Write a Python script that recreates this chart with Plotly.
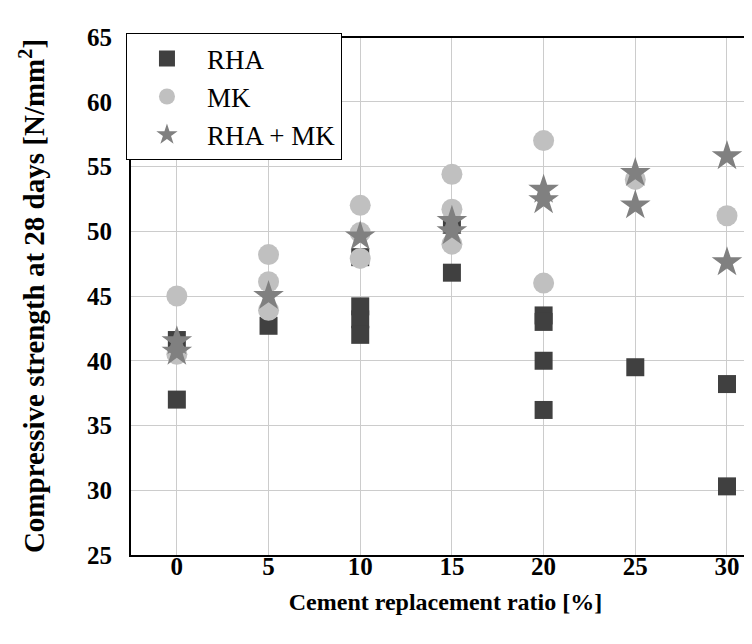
import plotly.graph_objects as go

# x = cement replacement ratio [%], y = compressive strength at 28 days [N/mm2]
rha_x = [0, 0, 5, 10, 10, 10, 10, 15, 15, 20, 20, 20, 20, 25, 30, 30]
rha_y = [41.6, 37.0, 42.7, 48.0, 44.2, 43.2, 42.0, 50.5, 46.8, 43.5, 43.0, 40.0, 36.2, 39.5, 38.2, 30.3]

mk_x = [0, 0, 5, 5, 5, 10, 10, 10, 15, 15, 15, 20, 20, 25, 30]
mk_y = [45.0, 40.5, 48.2, 46.1, 43.9, 52.0, 49.9, 47.9, 54.4, 51.7, 49.0, 57.0, 46.0, 54.0, 51.2]

mix_x = [0, 0, 5, 10, 15, 15, 20, 20, 25, 25, 30, 30]
mix_y = [41.5, 40.7, 45.0, 49.6, 50.8, 50.0, 53.2, 52.4, 54.5, 52.0, 55.8, 47.6]

x_ticks = [0, 5, 10, 15, 20, 25, 30]
y_ticks = [25, 30, 35, 40, 45, 50, 55, 60, 65]

SERIF = "Liberation Serif"

fig = go.Figure()
fig.add_trace(go.Scatter(x=rha_x, y=rha_y, mode="markers", name="RHA", legendgroup="a",
                         marker=dict(symbol="square", size=18, color="#404040")))
fig.add_trace(go.Scatter(x=mk_x, y=mk_y, mode="markers", name="MK", legendgroup="b",
                         marker=dict(symbol="circle", size=21, color="#c0c0c0")))
fig.add_trace(go.Scatter(x=mix_x, y=mix_y, mode="markers", name="RHA + MK", legendgroup="c",
                         marker=dict(symbol="star", size=23, color="#808080")))

# top border (right side is cut off in the original)
fig.add_shape(type="line", xref="paper", yref="paper", x0=0, x1=1, y0=1, y1=1,
              line=dict(color="black", width=2))

fig.update_layout(
    width=752, height=644,
    margin=dict(l=123, r=0, t=29, b=97),
    plot_bgcolor="white", paper_bgcolor="white",
    font=dict(family=SERIF, color="black"),
    xaxis=dict(range=[-2.5, 31.8], tickvals=x_ticks, showgrid=True,
               gridcolor="#cccccc", gridwidth=1, zeroline=False,
               showline=True, linecolor="black", linewidth=2,
               ticks="", ticklabelstandoff=-12,
               tickfont=dict(size=25, family=SERIF, weight="bold"),
               title=dict(text="<b>Cement replacement ratio [%]</b>",
                          font=dict(size=24, family=SERIF), standoff=14)),
    yaxis=dict(range=[25, 65], tickvals=y_ticks, showgrid=True,
               gridcolor="#cccccc", gridwidth=1, zeroline=False,
               showline=True, linecolor="black", linewidth=2,
               ticks="", ticklabelstandoff=12,
               tickfont=dict(size=25, family=SERIF, weight="bold"),
               title=dict(text="<b>Compressive strength at 28 days [N/mm<sup>2</sup>]</b>",
                          font=dict(size=29, family=SERIF), standoff=34)),
    legend=dict(x=-0.008, y=1.007, xanchor="left", yanchor="top",
                bgcolor="white", bordercolor="black", borderwidth=1,
                font=dict(size=27, family=SERIF), tracegroupgap=0,
                traceorder="grouped", itemwidth=70),
    showlegend=True,
)

fig.write_html("out.html")
